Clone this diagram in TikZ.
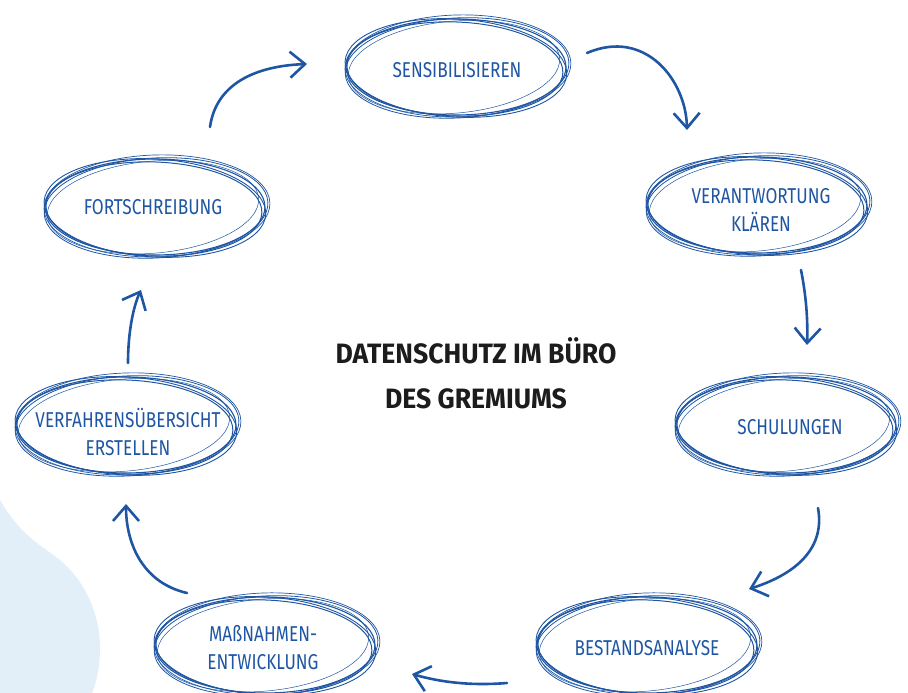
\documentclass[tikz,border=0pt]{standalone}
\usepackage{fontspec}
\setmainfont{Fira Sans}
\newfontfamily\lblfont{Fira Sans}[FakeStretch=0.8]
\newfontfamily\ttlfont{Fira Sans}[FakeStretch=0.95]
\usetikzlibrary{arrows.meta,calc}
\definecolor{penblue}{HTML}{1E56A3}
\definecolor{blobblue}{HTML}{E3EFF8}
\definecolor{ink}{HTML}{1C1C1C}
\newcommand\sketchell[1]{%
  \foreach \r/\a/\b/\dx/\dy/\w in {0/110/48/0/0/1.1, 3/112/50/1/1/0.8, -2/108/47/-1/2/1.0, 1.5/113/51/2/-1/0.7, -3.5/111/49/0/1/0.9, 5/106/46/-2/0/0.5}
    \draw[ellw, line width=\w pt, rotate around={\r:(#1)}] ($(#1)+(\dx,\dy)$) ellipse [x radius=\a, y radius=\b];%
}
\begin{document}
\begin{tikzpicture}[x=1pt,y=-1pt,
  ellw/.style={draw=penblue},
  lbl/.style={text=penblue, align=center, font=\lblfont\fontsize{21.5}{28}\selectfont, inner sep=0pt},
  arr/.style={draw=penblue, line width=2.6pt, line cap=round, -{Straight Barb[length=15pt,width=26pt,line width=2.6pt]}},
  title/.style={text=ink, align=center, font=\ttlfont\fontsize{28}{45}\selectfont\bfseries, inner sep=0pt}]
\useasboundingbox (0,0) rectangle (908,693);
\clip (0,0) rectangle (908,693);
% background blob
\fill[blobblue] (0,500) .. controls (20,535) and (42,546) .. (60,560)
  .. controls (86,582) and (100,615) .. (100,648)
  .. controls (100,668) and (96,684) .. (92,693) -- (0,693) -- cycle;
% ellipse centres
\coordinate (c1) at (456,67);
\coordinate (c2) at (757,205);
\coordinate (c3) at (786,425);
\coordinate (c4) at (647,645);
\coordinate (c5) at (265,645);
\coordinate (c6) at (126,425);
\coordinate (c7) at (155,207);
\sketchell{c1}\sketchell{c2}\sketchell{c3}\sketchell{c4}\sketchell{c5}\sketchell{c6}\sketchell{c7}
% labels
\node[lbl] (n1) at (457,70) {SENSIBILISIEREN};
\node[lbl] (n2) at (761,210) {VERANTWORTUNG\\KLÄREN};
\node[lbl] (n3) at (790,427) {SCHULUNGEN};
\node[lbl] (n4) at (647,648) {BESTANDSANALYSE};
\node[lbl] (n5) at (263,648) {MAßNAHMEN-\\ENTWICKLUNG};
\node[lbl] (n6) at (128,432) {VERFAHRENSÜBERSICHT\\ERSTELLEN};
\node[lbl] (n7) at (153,207) {FORTSCHREIBUNG};
\node[title] (t) at (476,373) {DATENSCHUTZ IM BÜRO\\DES GREMIUMS};
% arrow ends
\coordinate (a1s) at (587,53);  \coordinate (a1e) at (687,130);
\coordinate (a2s) at (801,270); \coordinate (a2e) at (807,345);
\coordinate (a3s) at (818,508); \coordinate (a3e) at (749,589);
\coordinate (a4s) at (507,683); \coordinate (a4e) at (412,674);
\coordinate (a5s) at (187,593); \coordinate (a5e) at (126,504);
\coordinate (a6s) at (128,363); \coordinate (a6e) at (141,290);
\coordinate (a7s) at (210,127); \coordinate (a7e) at (307,64);
\draw[arr] (a1s) .. controls (645,28) and (686,80) .. (a1e);
\draw[arr] (a2s) .. controls (806,295) and (808,320) .. (a2e);
\draw[arr] (a3s) .. controls (826,552) and (790,576) .. (a3e);
\draw[arr] (a4s) .. controls (470,686) and (440,682) .. (a4e);
\draw[arr] (a5s) .. controls (140,582) and (126,540) .. (a5e);
\draw[arr] (a6s) .. controls (128,330) and (134,305) .. (a6e);
\draw[arr] (a7s) .. controls (216,84) and (255,66) .. (a7e);
\end{tikzpicture}
\end{document}
